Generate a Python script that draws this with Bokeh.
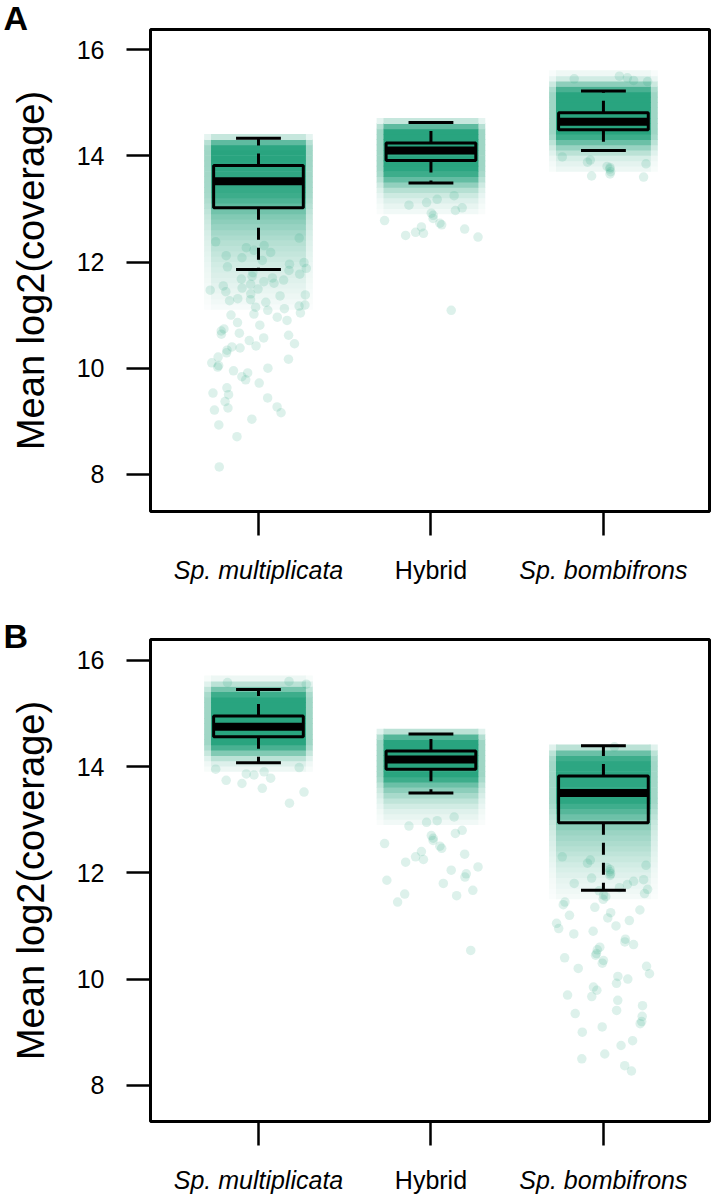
import math
from bokeh.plotting import figure
from bokeh.models import Range1d, FixedTicker, ColumnDataSource
from bokeh.layouts import column
from bokeh.core.properties import value
from bokeh.embed import file_html
from bokeh.resources import INLINE

# ---------------- data ----------------
categories = ["Sp. multiplicata", "Hybrid", "Sp. bombifrons"]
category_style = ["italic", "normal", "italic"]
y_ticks = [8, 10, 12, 14, 16]
y_label = "Mean log2(coverage)"
panel_letters = ["A", "B"]

# box statistics per panel: lower whisker, q1, median, q3, upper whisker
A_whisker_low = [11.86, 13.49, 14.10]
A_q1 = [13.02, 13.91, 14.49]
A_median = [13.52, 14.10, 14.64]
A_q3 = [13.82, 14.24, 14.81]
A_whisker_high = [14.33, 14.63, 15.22]

B_whisker_low = [14.07, 13.50, 11.67]
B_q1 = [14.56, 13.95, 12.94]
B_median = [14.75, 14.13, 13.50]
B_q3 = [14.95, 14.29, 13.82]
B_whisker_high = [15.45, 14.61, 14.39]

# point-cloud density (opacity of the overlapping points) in 0.1-wide bins,
# listed from the lowest bin upward; *_start = lower edge of the first bin
A_mult_density_start = 11.1
A_mult_density = [0.04, 0.06, 0.08, 0.10, 0.12, 0.14, 0.16, 0.18, 0.20, 0.23,
                  0.26, 0.29, 0.32, 0.36, 0.40, 0.45, 0.50, 0.55, 0.62, 0.70,
                  0.78, 0.85, 0.88, 0.89, 0.90, 0.91, 0.92, 0.93, 0.94, 0.94,
                  0.92, 0.70, 0.25]
A_hyb_density_start = 12.9
A_hyb_density = [0.06, 0.10, 0.15, 0.22, 0.32, 0.48, 0.68, 0.85, 0.93, 0.94,
                 0.94, 0.94, 0.94, 0.94, 0.94, 0.94, 0.70, 0.25]
A_bomb_density_start = 13.7
A_bomb_density = [0.08, 0.12, 0.18, 0.30, 0.45, 0.65, 0.85, 0.94, 0.94, 0.94,
                  0.94, 0.94, 0.94, 0.94, 0.94, 0.80, 0.50, 0.20, 0.07]

B_mult_density_start = 13.9
B_mult_density = [0.08, 0.15, 0.30, 0.55, 0.80, 0.94, 0.94, 0.94, 0.94, 0.94,
                  0.94, 0.94, 0.94, 0.94, 0.85, 0.60, 0.30, 0.08]
B_hyb_density_start = 12.9
B_hyb_density = [0.06, 0.10, 0.14, 0.20, 0.28, 0.38, 0.50, 0.65, 0.85, 0.94,
                 0.94, 0.94, 0.94, 0.94, 0.94, 0.94, 0.75, 0.30]
B_bomb_density_start = 11.5
B_bomb_density = [0.05, 0.07, 0.09, 0.11, 0.14, 0.17, 0.20, 0.24, 0.28, 0.32,
                  0.36, 0.40, 0.44, 0.50, 0.56, 0.64, 0.74, 0.84, 0.92, 0.92,
                  0.92, 0.92, 0.92, 0.92, 0.92, 0.92, 0.85, 0.65, 0.30]

# individually visible points in the sparse tails
A_mult_points = [12.45, 12.38, 12.31, 12.27, 12.22, 12.18, 12.12, 12.08, 12.03,
                 11.99, 11.96, 11.91, 11.88, 11.84, 11.80, 11.77, 11.73, 11.70,
                 11.68, 11.66, 11.63, 11.60, 11.58, 11.55, 11.51, 11.49, 11.47,
                 11.44, 11.40, 11.38, 11.36, 11.31, 11.29, 11.27, 11.24, 11.19,
                 11.17, 11.15, 11.12, 11.09, 11.04, 11.02, 11.00, 10.96, 10.90,
                 10.86, 10.81, 10.74, 10.70, 10.66, 10.64, 10.62, 10.57, 10.52,
                 10.46, 10.42, 10.40, 10.38, 10.34, 10.29, 10.21, 10.17, 10.10,
                 10.05, 10.02, 10.00, 9.95, 9.91, 9.84, 9.78, 9.72, 9.63, 9.53,
                 9.50, 9.44, 9.37, 9.27, 9.25, 9.21, 9.16, 9.04, 8.93, 8.71, 8.14]
A_hyb_points = [13.25, 13.18, 13.12, 13.07, 13.02, 12.97, 12.92, 12.88, 12.82,
                12.78, 12.73, 12.70, 12.66, 12.62, 12.56, 12.54, 12.50, 12.47,
                11.09]
A_bomb_points = [13.98, 13.92, 13.88, 13.85, 13.80, 13.78, 13.75, 13.70, 13.66,
                 13.62, 13.60, 15.42, 15.45, 15.47, 15.50, 15.40]

B_mult_points = [13.98, 13.95, 13.90, 13.86, 13.84, 13.78, 13.74, 13.68, 13.59,
                 13.52, 13.31, 15.58, 15.55, 15.60]
B_hyb_points = [13.05, 12.98, 12.95, 12.88, 12.80, 12.74, 12.70, 12.65, 12.61,
                12.55, 12.50, 12.46, 12.40, 12.35, 12.30, 12.25, 12.20, 12.11,
                12.05, 11.98, 11.92, 11.86, 11.80, 11.67, 11.60, 11.57, 11.45,
                10.54]
B_bomb_points = [12.30, 12.24, 12.18, 12.14, 12.10, 12.06, 12.02, 11.98, 11.95,
                 11.90, 11.87, 11.84, 11.80, 11.78, 11.72, 11.69, 11.66, 11.61,
                 11.58, 11.55, 11.50, 11.45, 11.40, 11.35, 11.30, 11.25, 11.20,
                 11.15, 11.10, 11.05, 11.00, 10.95, 10.90, 10.85, 10.75, 10.70,
                 10.65, 10.60, 10.55, 10.48, 10.45, 10.40, 10.35, 10.30, 10.24,
                 10.20, 10.10, 10.05, 10.00, 9.92, 9.85, 9.79, 9.70, 9.67, 9.60,
                 9.50, 9.41, 9.35, 9.30, 9.20, 9.16, 9.10, 9.00, 8.84, 8.75,
                 8.59, 8.50, 8.37, 8.27, 14.37]

# ---------------- styling / layout ----------------
GREEN = (27, 158, 119)
GREEN_HEX = "#1b9e77"
FONT = "Liberation Sans"
BOX_W = 0.52
CORE_HALF = 0.275
CLOUD_HALF = 0.315
JITTER_HALF = 0.28
W = 718
FRAME_LEFT = 150
FRAME_RIGHT_PAD = 9
FRAME_TOP = 29
FRAME_H = 482
FRAME_BOTTOM_PAD = 32
MAIN_H = FRAME_TOP + FRAME_H + FRAME_BOTTOM_PAD
TEXT_SHIFT = 9   # the text glyph sits this much lower than its anchor


def mix(a):
    r = round(255 * (1 - a) + GREEN[0] * a)
    g = round(255 * (1 - a) + GREEN[1] * a)
    b = round(255 * (1 - a) + GREEN[2] * a)
    return "#%02x%02x%02x" % (r, g, b)


def jit(k, gi):
    s = math.sin((k + 1) * 12.9898 + gi * 78.233) * 43758.5453
    return s - math.floor(s)


def main_panel(letter, letter_standoff, stats, densities, points, y_lo, y_hi):
    wl, q1, med, q3, wh = stats
    p = figure(width=W, height=MAIN_H, output_backend="svg",
               toolbar_location=None, title=letter, frame_align=False,
               x_range=Range1d(0.374, 3.615), y_range=Range1d(y_lo, y_hi),
               min_border_left=FRAME_LEFT, min_border_right=FRAME_RIGHT_PAD,
               min_border_top=FRAME_TOP, min_border_bottom=FRAME_BOTTOM_PAD)
    p.title.align = "left"
    p.title.offset = -(FRAME_LEFT - 3)
    p.title.standoff = letter_standoff
    p.title.text_font = FONT
    p.title.text_font_size = "34px"
    p.title.text_font_style = "bold"
    p.title.text_color = "black"
    p.grid.visible = False
    p.background_fill_color = "white"
    p.border_fill_color = "white"
    p.outline_line_color = "black"
    p.outline_line_width = 3

    # density cells of the jittered cloud (opaque blends over white)
    sL, sR, sB, sT, sC = [], [], [], [], []
    cL, cR, cB, cT, cC = [], [], [], [], []
    for gi, (start, dens) in enumerate(densities):
        x = gi + 1
        for k, a in enumerate(dens):
            b0 = start + 0.1 * k
            t0 = start + 0.1 * (k + 1) + 0.012
            for lo, hi in ((x - CLOUD_HALF, x - CORE_HALF + 0.01),
                           (x + CORE_HALF - 0.01, x + CLOUD_HALF)):
                sL.append(lo); sR.append(hi); sB.append(b0); sT.append(t0)
                sC.append(mix(a * 0.45))
            cL.append(x - CORE_HALF); cR.append(x + CORE_HALF)
            cB.append(b0); cT.append(t0); cC.append(mix(a))
    p.quad(left=sL, right=sR, bottom=sB, top=sT, fill_color=sC, line_color=None)
    p.quad(left=cL, right=cR, bottom=cB, top=cT, fill_color=cC, line_color=None)

    # sparse individual points with a deterministic jitter
    px, py = [], []
    for gi, ys in enumerate(points):
        for k, yv in enumerate(ys):
            px.append(gi + 1 + JITTER_HALF * (2 * jit(k, gi) - 1))
            py.append(yv)
    p.scatter(px, py, size=9.5, fill_color=GREEN_HEX, fill_alpha=0.15,
              line_color=None)

    xs = [1, 2, 3]
    p.segment(x0=xs, y0=q1, x1=xs, y1=wl, line_color="black", line_width=3,
              line_dash="12 8")
    p.segment(x0=xs, y0=q3, x1=xs, y1=wh, line_color="black", line_width=3,
              line_dash="12 8")
    xl = [x - BOX_W / 4 for x in xs]
    xr = [x + BOX_W / 4 for x in xs]
    p.segment(x0=xl, y0=wl, x1=xr, y1=wl, line_color="black", line_width=3)
    p.segment(x0=xl, y0=wh, x1=xr, y1=wh, line_color="black", line_width=3)
    p.quad(left=[x - BOX_W / 2 for x in xs], right=[x + BOX_W / 2 for x in xs],
           bottom=q1, top=q3, fill_color=None, line_color="black", line_width=3)
    p.segment(x0=[x - BOX_W / 2 for x in xs], y0=med,
              x1=[x + BOX_W / 2 for x in xs], y1=med,
              line_color="black", line_width=8)

    # y axis with its title
    p.yaxis.ticker = FixedTicker(ticks=y_ticks)
    p.yaxis.axis_line_color = None
    p.yaxis.major_tick_out = 24
    p.yaxis.major_tick_in = 0
    p.yaxis.major_tick_line_width = 2.5
    p.yaxis.minor_tick_line_color = None
    p.yaxis.major_label_text_font = FONT
    p.yaxis.major_label_text_font_size = "25px"
    p.yaxis.major_label_text_color = "black"
    p.yaxis.major_label_standoff = 22
    p.yaxis.axis_label = y_label
    p.yaxis.axis_label_text_font = FONT
    p.yaxis.axis_label_text_font_size = "38px"
    p.yaxis.axis_label_text_font_style = "normal"
    p.yaxis.axis_label_text_color = "black"
    p.yaxis.axis_label_standoff = 22

    # x axis: tick marks only (labels are set below in their own styles)
    p.xaxis.ticker = FixedTicker(ticks=[], minor_ticks=xs)
    p.xaxis.axis_line_color = None
    p.xaxis.major_tick_line_color = None
    p.xaxis.minor_tick_out = 24
    p.xaxis.minor_tick_in = 0
    p.xaxis.minor_tick_line_width = 2.5
    p.xaxis.minor_tick_line_color = "black"
    return p


def bare(height, x_range, y_range, left=0, right=0):
    f = figure(width=W, height=height, output_backend="svg", title=None,
               toolbar_location=None, x_range=x_range, y_range=y_range,
               x_axis_location=None, y_axis_location=None, frame_align=False,
               min_border_left=left, min_border_right=right,
               min_border_top=0, min_border_bottom=0)
    f.grid.visible = False
    f.outline_line_color = None
    f.background_fill_color = "white"
    f.border_fill_color = "white"
    return f


def build(letter, letter_standoff, stats, densities, points, y_lo, y_hi, bottom_h):
    main = main_panel(letter, letter_standoff, stats, densities, points, y_lo, y_hi)
    bottom = bare(bottom_h, main.x_range, Range1d(bottom_h, 0),
                  FRAME_LEFT, FRAME_RIGHT_PAD)
    src = ColumnDataSource(dict(x=[1, 2, 3], y=[35 - TEXT_SHIFT] * 3,
                                text=categories, style=category_style))
    bottom.text(x="x", y="y", text="text", source=src, text_align="center",
                text_baseline="alphabetic", text_font=value(FONT),
                text_font_size=value("25px"), text_font_style="style",
                text_color="black")
    return column(main, bottom)


panelA = build(panel_letters[0], -14,
               (A_whisker_low, A_q1, A_median, A_q3, A_whisker_high),
               [(A_mult_density_start, A_mult_density),
                (A_hyb_density_start, A_hyb_density),
                (A_bomb_density_start, A_bomb_density)],
               [A_mult_points, A_hyb_points, A_bomb_points],
               7.30, 16.38, 67)
panelB = build(panel_letters[1], -30,
               (B_whisker_low, B_q1, B_median, B_q3, B_whisker_high),
               [(B_mult_density_start, B_mult_density),
                (B_hyb_density_start, B_hyb_density),
                (B_bomb_density_start, B_bomb_density)],
               [B_mult_points, B_hyb_points, B_bomb_points],
               7.32, 16.39, 45)

layout = column(panelA, panelB)
open("out.html", "w").write(file_html(layout, INLINE))
